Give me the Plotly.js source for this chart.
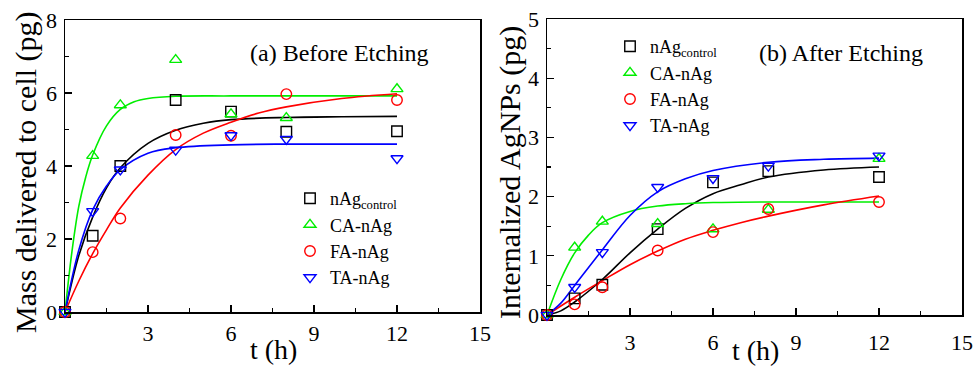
<!DOCTYPE html>
<html>
<head>
<meta charset="utf-8">
<script src="https://cdn.plot.ly/plotly-3.0.1.min.js"></script>
<style>html,body{margin:0;padding:0;background:#fff;}#chart{width:974px;height:367px;}</style>
</head>
<body>
<div id="chart"></div>
<script>
// ---------- data: measured points ----------
const tPts = [0, 1, 2, 4, 6, 8, 12];
const seriesNames = ['nAg<sub>control</sub>', 'CA-nAg', 'FA-nAg', 'TA-nAg'];
// (a) Before Etching
const a_ctrl = [0, 2.09, 4.00, 5.81, 5.49, 4.94, 4.95];
const a_CA   = [0, 4.28, 5.67, 6.91, 5.42, 5.32, 6.11];
const a_FA   = [0, 1.64, 2.56, 4.85, 4.83, 5.97, 5.81];
const a_TA   = [0, 2.76, 3.90, 4.44, 4.84, 4.74, 4.21];
// (b) After Etching
const b_ctrl = [0, 0.28, 0.51, 1.45, 2.24, 2.43, 2.33];
const b_CA   = [0, 1.14, 1.58, 1.54, 1.45, 1.78, 2.64];
const b_FA   = [0, 0.18, 0.47, 1.09, 1.40, 1.79, 1.91];
const b_TA   = [0, 0.47, 1.06, 2.16, 2.31, 2.52, 2.69];

// ---------- fitted curves ----------
const a_fit_ctrl_t = [0, 0.5, 1, 1.5, 2, 3, 4, 5, 6, 8, 10, 12];
const a_fit_ctrl   = [0, 1.55, 2.6, 3.4, 3.95, 4.62, 4.98, 5.17, 5.27, 5.33, 5.35, 5.36];
const a_fit_CA_t   = [0, 0.25, 0.5, 0.75, 1, 1.5, 2, 2.5, 3, 4, 6, 12];
const a_fit_CA     = [0, 1.65, 2.9, 3.7, 4.3, 5.1, 5.55, 5.76, 5.85, 5.91, 5.92, 5.92];
const a_fit_FA_t   = [0, 0.5, 1, 1.5, 2, 3, 4, 5, 6, 7, 8, 10, 12];
const a_fit_FA     = [0, 0.85, 1.6, 2.25, 2.85, 3.75, 4.45, 4.9, 5.2, 5.45, 5.62, 5.85, 5.98];
const a_fit_TA_t   = [0, 0.5, 1, 1.5, 2, 3, 4, 6, 8, 12];
const a_fit_TA     = [0, 1.7, 2.8, 3.45, 3.9, 4.35, 4.5, 4.58, 4.6, 4.6];

const b_fit_ctrl_t = [0, 0.5, 1, 2, 3, 4, 5, 6, 7, 8, 10, 12];
const b_fit_ctrl   = [0, 0.07, 0.22, 0.6, 1.05, 1.45, 1.8, 2.05, 2.2, 2.33, 2.45, 2.5];
const b_fit_CA_t   = [0, 0.5, 1, 1.5, 2, 3, 4, 5, 6, 8, 12];
const b_fit_CA     = [0, 0.6, 1.05, 1.35, 1.56, 1.75, 1.84, 1.88, 1.9, 1.91, 1.91];
const b_fit_FA_t   = [0, 1, 2, 3, 4, 5, 6, 7, 8, 10, 12];
const b_fit_FA     = [0, 0.3, 0.58, 0.85, 1.08, 1.28, 1.43, 1.56, 1.67, 1.86, 2.01];
const b_fit_TA_t   = [0, 0.5, 1, 2, 3, 4, 5, 6, 8, 10, 12];
const b_fit_TA     = [0, 0.2, 0.5, 1.1, 1.68, 2.08, 2.3, 2.44, 2.58, 2.63, 2.65];

const xTicks = [3, 6, 9, 12, 15];
const colors = ['#000000', '#00ee00', '#ff0000', '#0000ff'];
const symbols = ['square-open', 'triangle-up-open', 'circle-open', 'triangle-down-open'];

const FONT = 'Liberation Serif, Times New Roman, serif';

const traces = [];
function addPanel(pts, fits, xa, ya, legendId) {
  fits.forEach((f, i) => {
    traces.push({x: f[0], y: f[1], xaxis: xa, yaxis: ya, mode: 'lines', type: 'scatter',
      line: {color: colors[i], width: 1.6, shape: 'spline', smoothing: 1}, showlegend: false, hoverinfo: 'skip'});
  });
  pts.forEach((p, i) => {
    traces.push({x: tPts, y: p, xaxis: xa, yaxis: ya, mode: 'markers', type: 'scatter', name: seriesNames[i],
      legend: legendId, cliponaxis: false,
      marker: {symbol: symbols[i], size: 10.5, color: colors[i], line: {color: colors[i], width: 1.4}}});
  });
}
addPanel([a_ctrl, a_CA, a_FA, a_TA],
  [[a_fit_ctrl_t, a_fit_ctrl], [a_fit_CA_t, a_fit_CA], [a_fit_FA_t, a_fit_FA], [a_fit_TA_t, a_fit_TA]], 'x', 'y', 'legend');
addPanel([b_ctrl, b_CA, b_FA, b_TA],
  [[b_fit_ctrl_t, b_fit_ctrl], [b_fit_CA_t, b_fit_CA], [b_fit_FA_t, b_fit_FA], [b_fit_TA_t, b_fit_TA]], 'x2', 'y2', 'legend2');

const W = 974, H = 367;
function axX(dom, standoff) {
  return {domain: dom, range: [0, 15], tickvals: xTicks, ticks: 'inside', ticklen: 7, tickwidth: 1.3, tickcolor: '#000',
    showline: true, linecolor: '#000', linewidth: 1.5, mirror: true, showgrid: false, zeroline: false,
    tickfont: {family: FONT, size: 22, color: '#000'}, ticklabelstandoff: standoff,
    minor: {dtick: 1.5, tick0: 0, ticks: 'inside', ticklen: 4, tickwidth: 1.2, tickcolor: '#000', showgrid: false}, fixedrange: true};
}
function axY(dom, maxv, anchor) {
  return {domain: dom, range: [0, maxv], dtick: maxv > 6 ? 2 : 1, ticks: 'inside', ticklen: 7, tickwidth: 1.3, tickcolor: '#000',
    showline: true, linecolor: '#000', linewidth: 1.5, mirror: true, showgrid: false, zeroline: false, anchor: anchor,
    tickfont: {family: FONT, size: 22, color: '#000'}, ticklabelstandoff: 2,
    minor: {dtick: maxv > 6 ? 1 : 0.5, ticks: 'inside', ticklen: 4, tickwidth: 1.2, tickcolor: '#000', showgrid: false}, fixedrange: true};
}

const layout = {
  width: W, height: H,
  margin: {l: 0, r: 0, t: 0, b: 0},
  paper_bgcolor: '#fff', plot_bgcolor: '#fff',
  font: {family: FONT, color: '#000'},
  xaxis: Object.assign(axX([65 / W, 480 / W], 1), {anchor: 'y'}),
  yaxis: axY([1 - 312 / H, 1 - 20 / H], 8, 'x'),
  xaxis2: Object.assign(axX([547 / W, 962 / W], 7), {anchor: 'y2'}),
  yaxis2: axY([1 - 315 / H, 1 - 19 / H], 5, 'x2'),
  legend: {x: 290 / W, y: 1 - 180 / H, xanchor: 'left', yanchor: 'top', bgcolor: 'rgba(0,0,0,0)',
    font: {family: FONT, size: 18, color: '#000'}, itemclick: false, tracegroupgap: 0},
  legend2: {x: 610 / W, y: 1 - 28 / H, xanchor: 'left', yanchor: 'top', bgcolor: 'rgba(0,0,0,0)',
    font: {family: FONT, size: 18, color: '#000'}, itemclick: false, tracegroupgap: 0},
  annotations: [
    {text: '(a) Before Etching', xref: 'paper', yref: 'paper', x: 339 / W, y: 1 - 53 / H, xanchor: 'center', yanchor: 'middle',
      showarrow: false, font: {family: FONT, size: 24, color: '#000'}},
    {text: '(b) After Etching', xref: 'paper', yref: 'paper', x: 841 / W, y: 1 - 53 / H, xanchor: 'center', yanchor: 'middle',
      showarrow: false, font: {family: FONT, size: 24, color: '#000'}},
    {text: 'Mass delivered to cell (pg)', xref: 'paper', yref: 'paper', x: 26 / W, y: 1 - 172 / H, xanchor: 'center', yanchor: 'middle',
      textangle: -90, showarrow: false, font: {family: FONT, size: 30, color: '#000'}},
    {text: 'Internalized AgNPs (pg)', xref: 'paper', yref: 'paper', x: 510 / W, y: 1 - 173 / H, xanchor: 'center', yanchor: 'middle',
      textangle: -90, showarrow: false, font: {family: FONT, size: 30, color: '#000'}},
    {text: 't (h)', xref: 'paper', yref: 'paper', x: 273 / W, y: 1 - 349 / H, xanchor: 'center', yanchor: 'middle',
      showarrow: false, font: {family: FONT, size: 28, color: '#000'}},
    {text: 't (h)', xref: 'paper', yref: 'paper', x: 755 / W, y: 1 - 350 / H, xanchor: 'center', yanchor: 'middle',
      showarrow: false, font: {family: FONT, size: 28, color: '#000'}}
  ]
};

Plotly.newPlot('chart', traces, layout, {displayModeBar: false, staticPlot: true});
</script>
</body>
</html>
